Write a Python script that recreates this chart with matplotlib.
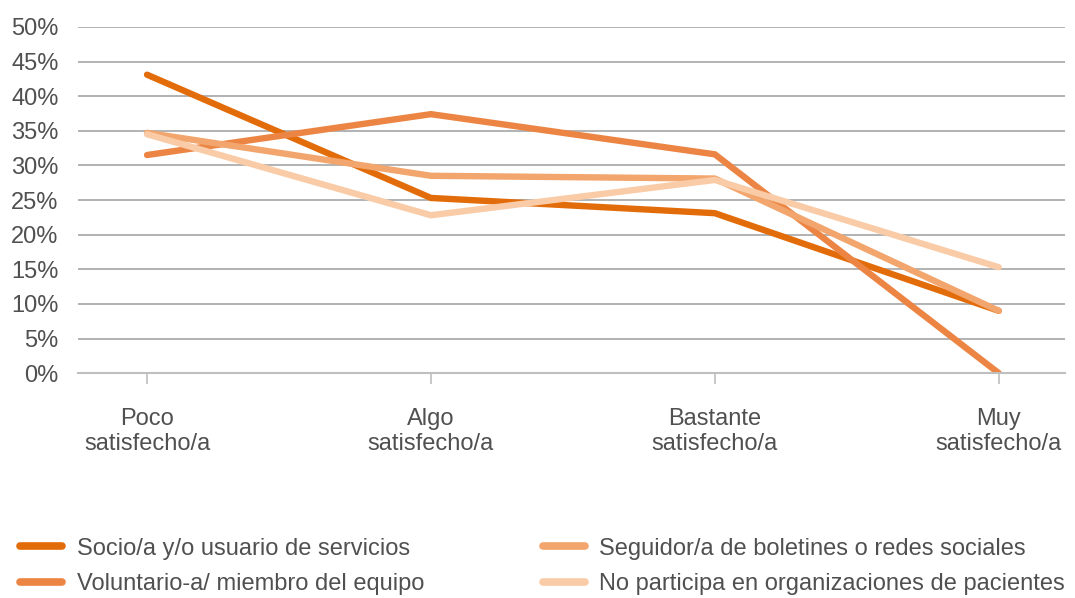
import matplotlib.pyplot as plt
from matplotlib.ticker import PercentFormatter

plt.rcParams['font.family'] = ['Liberation Sans', 'DejaVu Sans']

categories = ['Poco\nsatisfecho/a', 'Algo\nsatisfecho/a', 'Bastante\nsatisfecho/a', 'Muy\nsatisfecho/a']
socio = [43.1, 25.3, 23.1, 9.0]
voluntario = [31.5, 37.4, 31.6, 0.0]
seguidor = [34.7, 28.5, 28.1, 9.0]
no_participa = [34.5, 22.8, 27.9, 15.3]

series = [
    ('Socio/a y/o usuario de servicios', socio, '#E36C0A'),
    ('Voluntario-a/ miembro del equipo', voluntario, '#EC8544'),
    ('Seguidor/a de boletines o redes sociales', seguidor, '#F2A56C'),
    ('No participa en organizaciones de pacientes', no_participa, '#F9CBA6'),
]
text_color = '#505050'
fs = 17

fig = plt.figure(figsize=(10.75, 5.98), dpi=100)
ax = fig.add_axes([0.0726, 0.376, 0.918, 0.579])

x = range(len(categories))
lines = []
for label, vals, color in series:
    ln, = ax.plot(x, [v / 100 for v in vals], color=color, lw=4.6, label=label,
                  solid_capstyle='round', solid_joinstyle='miter')
    lines.append(ln)

ax.set_ylim(0, 0.5)
ax.set_xlim(-0.243, 3.233)
ax.set_yticks([i * 0.05 for i in range(11)])
ax.yaxis.set_major_formatter(PercentFormatter(1.0, decimals=0))
ax.set_xticks(list(x))
ax.set_xticklabels(categories, fontsize=fs, color=text_color, linespacing=1.18)
ax.tick_params(axis='y', length=0, pad=14, labelsize=fs, labelcolor=text_color)
ax.tick_params(axis='x', length=8, width=1.2, color='#BFBFBF', pad=17)
ax.grid(axis='y', color='#A6A6A6', lw=1.2)
ax.set_axisbelow(True)
for side in ('left', 'right', 'top'):
    ax.spines[side].set_visible(False)
ax.spines['bottom'].set_color('#BFBFBF')
ax.spines['bottom'].set_linewidth(1.5)

# two legend columns, placed separately
leg_kw = dict(loc='upper left', frameon=False, fontsize=fs, handlelength=1.78,
              handletextpad=0.6, labelspacing=0.57, borderpad=0,
              borderaxespad=0, labelcolor=text_color)
leg1 = fig.legend(handles=lines[:2], bbox_to_anchor=(0.019, 0.101), **leg_kw)
leg2 = fig.legend(handles=lines[2:], bbox_to_anchor=(0.505, 0.101), **leg_kw)
for leg in (leg1, leg2):
    for h in leg.legend_handles:
        h.set_linewidth(5.5)
        h.set_solid_capstyle('round')

fig.savefig('out.png', dpi=100)
